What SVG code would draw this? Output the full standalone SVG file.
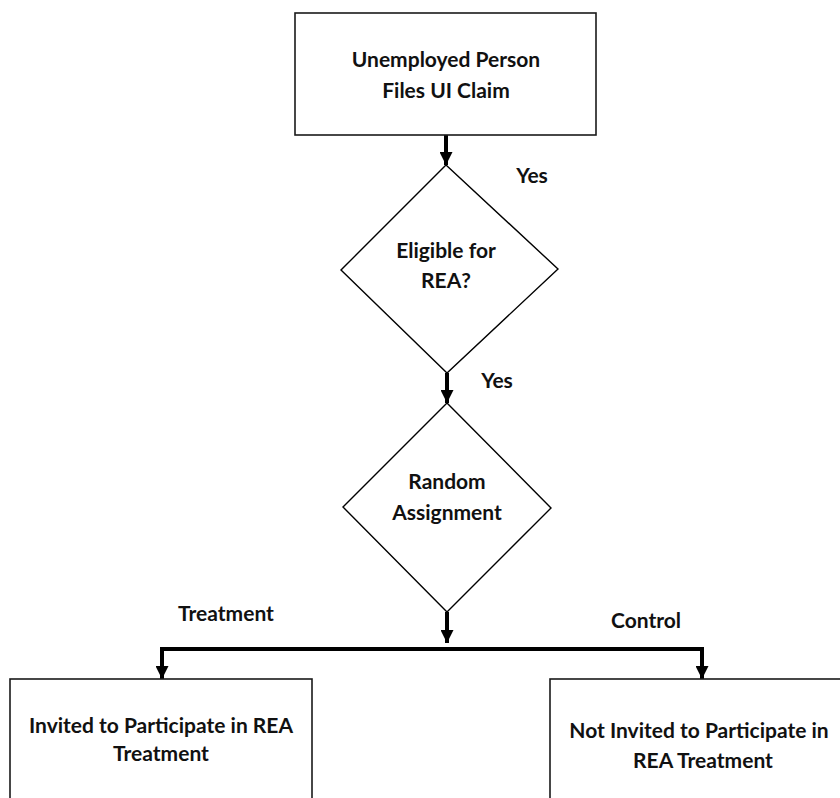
<svg xmlns="http://www.w3.org/2000/svg" width="840" height="798" viewBox="0 0 840 798">
<style>
.box{fill:#fff;stroke:#1a1a1a;stroke-width:1.6}
.dia{fill:#fff;stroke:#000;stroke-width:1.4}
.t{font-family:Lato,"Open Sans","Liberation Sans",sans-serif;font-weight:bold;font-size:21px;fill:#111;text-anchor:middle}
.c{fill:none;stroke:#000;stroke-width:4}
</style>
<defs>
<marker id="ah" viewBox="0 0 13 13" refX="13" refY="6.5" markerWidth="13" markerHeight="13" markerUnits="userSpaceOnUse" orient="auto">
<path d="M0,0 L13,6.5 L0,13 Z" fill="#000"/>
</marker>
</defs>
<rect width="840" height="798" fill="#fff"/>
<g id="connectors">
<line class="c" x1="446" y1="135" x2="446" y2="165" marker-end="url(#ah)"/>
<line class="c" x1="447" y1="373" x2="447" y2="403" marker-end="url(#ah)"/>
<line class="c" x1="447" y1="612" x2="447" y2="643" marker-end="url(#ah)"/>
<polyline class="c" points="162,649 702,649"/>
<line class="c" x1="162" y1="647" x2="162" y2="679" marker-end="url(#ah)"/>
<line class="c" x1="702" y1="647" x2="702" y2="679" marker-end="url(#ah)"/>
<text class="t" x="532" y="183">Yes</text>
<text class="t" x="497" y="388">Yes</text>
<text class="t" x="226" y="621">Treatment</text>
<text class="t" x="646" y="628">Control</text>
</g>
<g id="n1">
<rect class="box" x="295" y="13" width="301" height="122"/>
<text class="t" x="446" y="67">Unemployed Person</text>
<text class="t" x="446" y="98">Files UI Claim</text>
</g>
<g id="n2">
<polygon class="dia" points="446,165 558,269 447,373 341,270"/>
<text class="t" x="446" y="258">Eligible for</text>
<text class="t" x="446" y="288">REA?</text>
</g>
<g id="n3">
<polygon class="dia" points="447,403 551,508 447,612 343,507"/>
<text class="t" x="447" y="489">Random</text>
<text class="t" x="447" y="520">Assignment</text>
</g>
<g id="n4">
<rect class="box" x="10" y="679" width="302" height="130"/>
<text class="t" x="161" y="733">Invited to Participate in REA</text>
<text class="t" x="161" y="761">Treatment</text>
</g>
<g id="n5">
<rect class="box" x="550" y="679" width="300" height="130"/>
<text class="t" x="699" y="738">Not Invited to Participate in</text>
<text class="t" x="703" y="768">REA Treatment</text>
</g>
</svg>
